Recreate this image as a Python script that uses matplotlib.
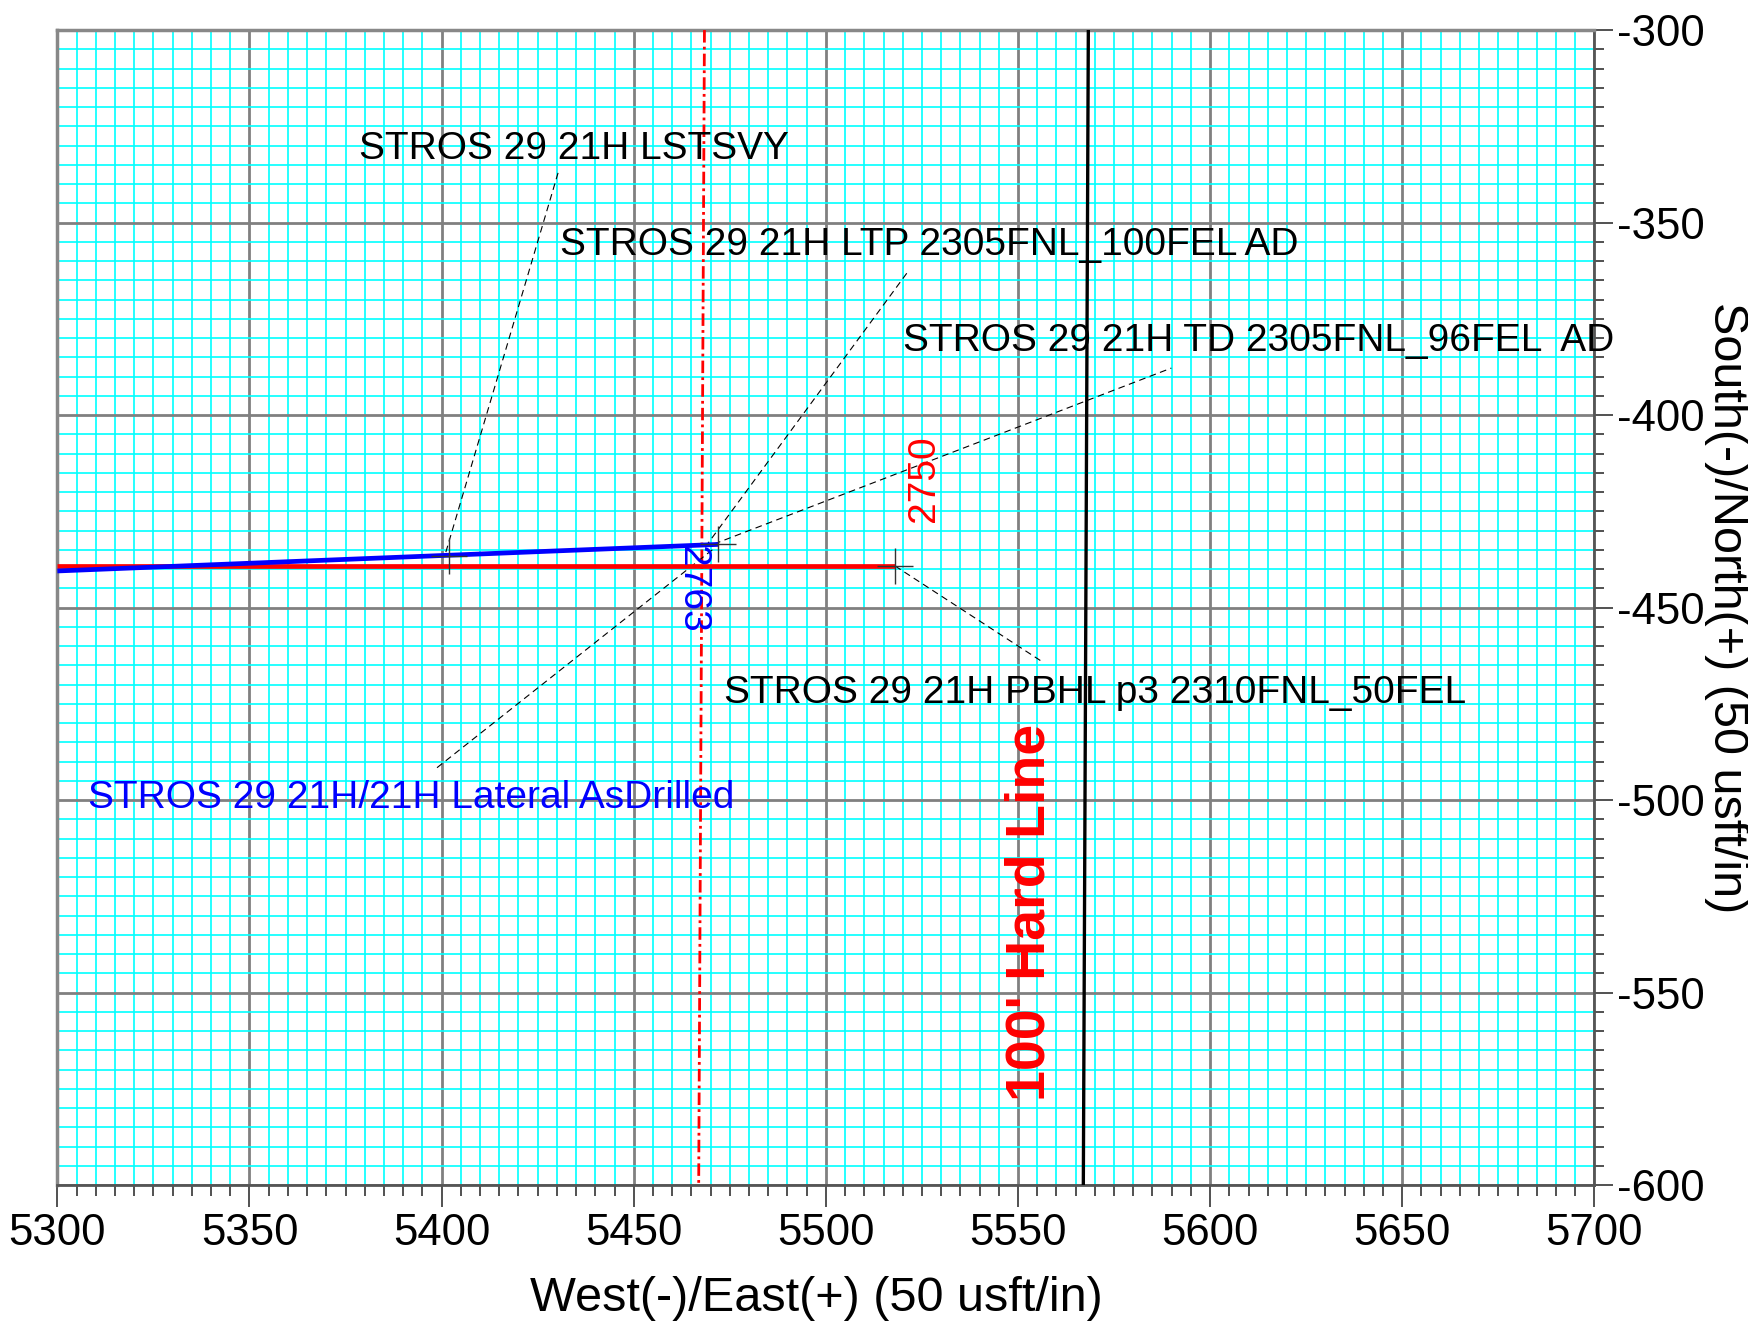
import matplotlib
matplotlib.use("Agg")
import matplotlib.pyplot as plt
from matplotlib.ticker import MultipleLocator

plt.rcParams['font.family'] = ['Liberation Sans', 'DejaVu Sans']
plt.rcParams['axes.unicode_minus'] = False

# plan (red) and as-drilled (blue) well paths, E/W and N/S
plan_e = [5300, 5518]
plan_n = [-439.2, -439.2]
drilled_e = [5300, 5472]
drilled_n = [-440.5, -433.6]

# hard line and section line
hard_e = [5568.3, 5567.0]
hard_n = [-300, -600]
sect_e = [5468.4, 5466.9]
sect_n = [-300, -600]

# target markers
mark_e = [5402, 5472, 5518]
mark_n = [-436.6, -433.6, -439.2]

# leader lines: (e0, n0, e1, n1)
leaders = [
    (5401.1, -435.6, 5430.3, -337.1),
    (5468.6, -434.3, 5521.1, -363.1),
    (5470.9, -433.5, 5589.9, -387.8),
    (5518.0, -439.2, 5556.5, -464.2),
    (5398.8, -491.6, 5470.7, -434.8),
]

labels = [
    "STROS 29 21H LSTSVY",
    "STROS 29 21H LTP 2305FNL_100FEL AD",
    "STROS 29 21H TD 2305FNL_96FEL  AD",
    "STROS 29 21H PBHL p3 2310FNL_50FEL",
]
label_e = [5378.5, 5430.8, 5520.0, 5473.5]
label_n = [-330.9, -355.8, -380.8, -472.3]

fig = plt.figure(figsize=(17.49, 13.3), dpi=100)
ax = fig.add_axes([0.0328, 0.109, 0.8788, 0.8684])

ax.set_xlim(5300, 5700)
ax.set_ylim(-600, -300)

ax.xaxis.set_major_locator(MultipleLocator(50))
ax.xaxis.set_minor_locator(MultipleLocator(5))
ax.yaxis.set_major_locator(MultipleLocator(50))
ax.yaxis.set_minor_locator(MultipleLocator(5))

ax.grid(which='minor', color='#00FFFF', lw=1.2, zorder=0)
ax.grid(which='major', color='#808080', lw=2.0, zorder=0.5)
ax.set_axisbelow(True)

ax.yaxis.tick_right()
ax.yaxis.set_label_position('right')
ax.tick_params(axis='x', which='major', direction='out', length=16, width=1.2,
               color='#333333', labelsize=31.5, pad=4)
ax.tick_params(axis='x', which='minor', direction='out', length=8, width=1.2, color='#333333')
ax.tick_params(axis='y', which='major', direction='out', length=14, width=1.2,
               color='#333333', labelsize=31.5, pad=2)
ax.tick_params(axis='y', which='minor', direction='out', length=7, width=1.2, color='#333333')

for side in ['top', 'left']:
    ax.spines[side].set_color('#888888')
    ax.spines[side].set_linewidth(2.5)
for side in ['bottom', 'right']:
    ax.spines[side].set_color('#555555')
    ax.spines[side].set_linewidth(2.0)

ax.set_xlabel("West(-)/East(+) (50 usft/in)", fontsize=35, labelpad=12)
ax.xaxis.set_label_coords(0.494, -0.079)
ax.set_ylabel("South(-)/North(+) (50 usft/in)", fontsize=35, rotation=270,
              va='bottom', labelpad=0)

# lines
ax.plot(sect_e, sect_n, color='red', lw=2.0, linestyle=(0, (4.5, 1.5, 1, 1.5)), zorder=3)
ax.plot(hard_e, hard_n, color='black', lw=2.4, zorder=3)

for e0, n0, e1, n1 in leaders:
    ax.plot([e0, e1], [n0, n1], color='black', lw=0.8, linestyle=(0, (6, 4)), zorder=4)

ax.plot(plan_e, plan_n, color='red', lw=3.4, zorder=5, solid_capstyle='butt')
ax.plot(drilled_e, drilled_n, color='blue', lw=3.4, zorder=6, solid_capstyle='butt')
ax.plot(mark_e, mark_n, linestyle='none', marker='+', markersize=26, mew=1.0,
        color='#333333', zorder=7)

for txt, e, n in zip(labels, label_e, label_n):
    ax.text(e, n, txt, fontsize=28, color='black', ha='left', va='center', zorder=8)

ax.text(5307.9, -499.4, "STROS 29 21H/21H Lateral AsDrilled", fontsize=28,
        color='blue', ha='left', va='center', zorder=8)
ax.text(5525.5, -416.6, "2750", fontsize=28, color='red', rotation=90,
        ha='center', va='center', zorder=8)
ax.text(5465.2, -445.2, "2763", fontsize=28, color='blue', rotation=270,
        ha='center', va='center', zorder=8)
ax.text(5553.2, -529.1, "100' Hard Line", fontsize=40, color='red', fontweight='bold',
        rotation=90, ha='center', va='center', zorder=8)

fig.savefig("out.png", dpi=100)
